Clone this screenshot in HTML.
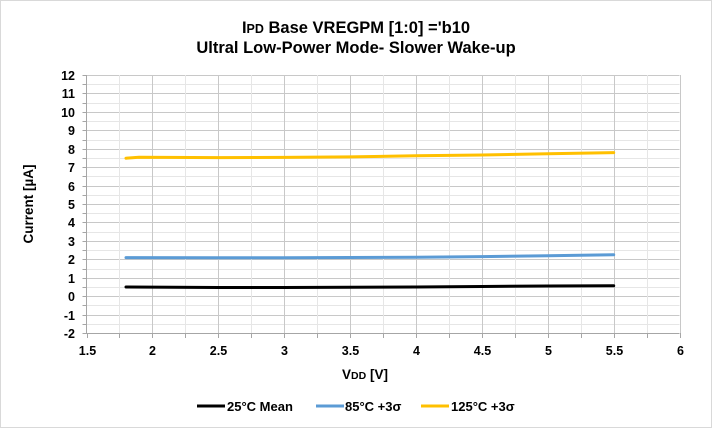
<!DOCTYPE html>
<html><head><meta charset="utf-8"><style>
html,body{margin:0;padding:0;background:#fff}
svg{display:block}
text{font-family:"Liberation Sans",sans-serif;fill:#000}
</style></head><body>
<svg id="s" width="712" height="428" viewBox="0 0 712 428" xmlns="http://www.w3.org/2000/svg">
<rect x="0.5" y="0.5" width="711" height="427" fill="#fff" stroke="#d9d9d9"/>
<g id="grid"></g>
<text x="356" y="33" text-anchor="middle" font-size="16.5" font-weight="bold">I<tspan font-size="12.5">PD</tspan> Base VREGPM [1:0] ='b10</text>
<text x="356" y="53" text-anchor="middle" font-size="16.5" font-weight="bold">Ultral Low-Power Mode- Slower Wake-up</text>
<text transform="translate(33,204) rotate(-90)" text-anchor="middle" font-size="13.5" font-weight="bold">Current [µA]</text>
<text x="365" y="379" text-anchor="middle" font-size="13.5" font-weight="bold">V<tspan font-size="10.5">DD</tspan> [V]</text>
<g fill="none" stroke-width="3" stroke-linecap="round" stroke-linejoin="round">
<polyline stroke="#000" points="126,287 218,287.5 284,287.5 416,287 481.9,286.5 547.8,286 613.7,285.8"/>
<polyline stroke="#5b9bd5" points="126,257.6 218,257.8 284,257.8 416,257.2 481.9,256.6 547.8,255.8 613.7,254.7"/>
<polyline stroke="#ffc000" points="126,158.2 139,157.2 218,157.6 284,157.4 350,156.9 416,155.8 481.9,155 547.8,153.8 613.7,152.6"/>
</g>
<g font-size="13" font-weight="bold">
<line x1="197" y1="406" x2="225" y2="406" stroke="#000" stroke-width="3"/>
<text x="227" y="411">25°C Mean</text>
<line x1="316" y1="406" x2="344" y2="406" stroke="#5b9bd5" stroke-width="3"/>
<text x="345" y="411">85°C +3σ</text>
<line x1="421" y1="406" x2="449" y2="406" stroke="#ffc000" stroke-width="3"/>
<text x="451" y="411">125°C +3σ</text>
</g>
</svg>
<script>
var g=document.getElementById('grid'),ns='http://www.w3.org/2000/svg',h='';
var L=86.5,R=679.5,T=75,B=333;
function X(v){return L+(v-1.5)*(R-L)/4.5}
function Y(v){return T+(12-v)*(B-T)/14}
for(var i=0;i<=28;i++){var v=-2+i*0.5,y=Math.round(Y(v))+0.5,maj=(i%2==0);
 h+='<line x1="'+L+'" x2="'+R+'" y1="'+y+'" y2="'+y+'" stroke="'+(maj?'#c8c8c8':'#e6e6e6')+'"/>';
 h+='<line x1="'+(L-4)+'" x2="'+L+'" y1="'+y+'" y2="'+y+'" stroke="#a6a6a6"/>';
 if(maj)h+='<text x="75" y="'+(y+4.5)+'" text-anchor="end" font-size="12.5" font-weight="bold">'+v+'</text>';}
for(var j=0;j<=18;j++){var v=1.5+j*0.25,x=Math.round(X(v))+0.5,maj=(j%2==0);
 if(j>0)h+='<line x1="'+x+'" x2="'+x+'" y1="'+T+'" y2="'+B+'" stroke="'+(maj?'#c8c8c8':'#e6e6e6')+'"/>';
 h+='<line x1="'+x+'" x2="'+x+'" y1="'+B+'" y2="'+(B+5)+'" stroke="#a6a6a6"/>';
 if(maj)h+='<text x="'+x+'" y="355" text-anchor="middle" font-size="12.5" font-weight="bold">'+v+'</text>';}
h+='<line x1="'+L+'" x2="'+L+'" y1="'+T+'" y2="'+B+'" stroke="#a6a6a6"/>';
h+='<line x1="'+L+'" x2="'+R+'" y1="'+(B+0.5)+'" y2="'+(B+0.5)+'" stroke="#a6a6a6"/>';
g.innerHTML=h;
</script>
</body></html>
